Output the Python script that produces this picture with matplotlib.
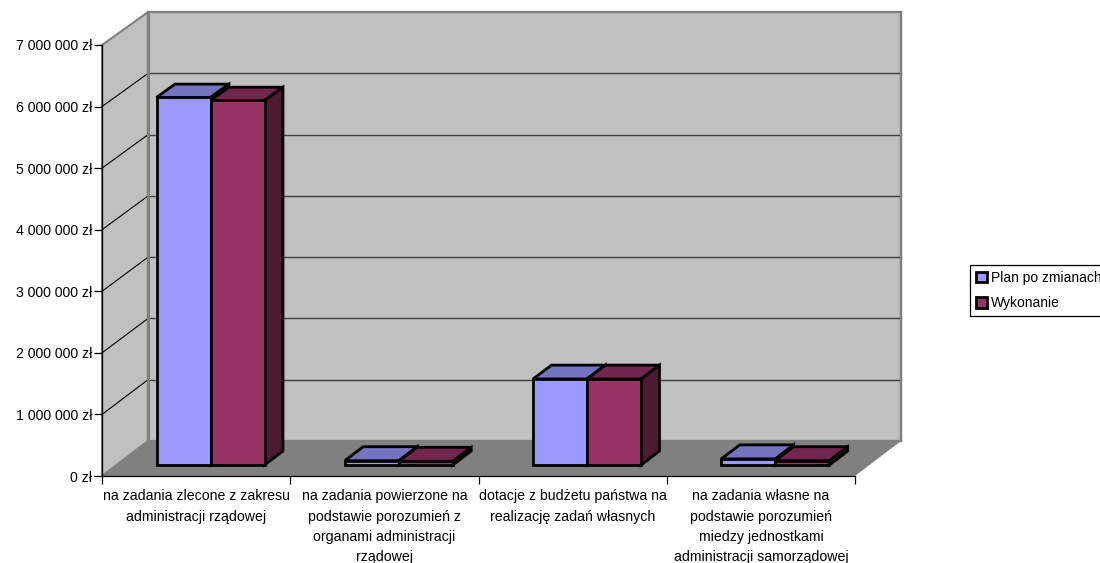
import numpy as np
import matplotlib
matplotlib.use('Agg')
import matplotlib.pyplot as plt
from matplotlib.patches import Polygon, Patch

plt.rcParams['font.family'] = ['Liberation Sans', 'DejaVu Sans']

categories = [
    'na zadania zlecone z zakresu\nadministracji rządowej',
    'na zadania powierzone na\npodstawie porozumień z\norganami administracji\nrządowej',
    'dotacje z budżetu państwa na\nrealizację zadań własnych',
    'na zadania własne na\npodstawie porozumień\nmiedzy jednostkami\nadministracji samorządowej',
]
plan = [5980000, 70000, 1400000, 100000]
wykonanie = [5930000, 60000, 1400000, 70000]
series_names = ['Plan po zmianach', 'Wykonanie']
y_ticks = [0, 1000000, 2000000, 3000000, 4000000, 5000000, 6000000, 7000000]
y_labels = ['0 zł', '1 000 000 zł', '2 000 000 zł', '3 000 000 zł',
            '4 000 000 zł', '5 000 000 zł', '6 000 000 zł', '7 000 000 zł']

W, H = 1100, 563
L, R, T, B = 102, 855, 45, 476  # front plane in pixels
fig = plt.figure(figsize=(W / 100, H / 100), dpi=100)
ax = fig.add_axes([L / W, 1 - B / H, (R - L) / W, (B - T) / H])
ax.set_xlim(0, 4)
ax.set_ylim(0, 7000000)
ax.patch.set_visible(False)

# oblique depth of the box, in data units
depth_x = 46 / ((R - L) / 4)
depth_y = 35 / ((B - T) / 7000000)


def pt(x, y, d=0.0):
    return (x + d * depth_x, y * (1 - 0.005 * d) + d * depth_y)


def poly(points, face, edge='none', lw=0.0, z=1):
    ax.add_patch(Polygon(points, closed=True, facecolor=face, edgecolor=edge, linewidth=lw,
                         joinstyle='miter', clip_on=False, zorder=z))


# walls and floor
poly([pt(0, 0), pt(0, 7000000), pt(0, 7000000, 1), pt(0, 0, 1)], '#C0C0C0', '#808080', 1.5)
poly([pt(0, 0, 1), pt(4, 0, 1), pt(4, 7000000, 1), pt(0, 7000000, 1)], '#C0C0C0', '#808080', 1.6)
poly([pt(0, 0), pt(4, 0), pt(4, 0, 1), pt(0, 0, 1)], '#808080')

for v in y_ticks[1:-1]:
    ax.plot(*zip(pt(0, v, 1), pt(4, v, 1)), color='#404040', lw=1.0, clip_on=False, zorder=1.5)
    ax.plot(*zip(pt(0, v), pt(0, v, 1)), color='black', lw=0.8, clip_on=False, zorder=1.5)
ax.plot(*zip(pt(0, 0, 1), pt(0, 7000000, 1)), color='#808080', lw=2.2, clip_on=False, zorder=1.5)
ax.plot(*zip(pt(4, 0, 1), pt(4, 7000000, 1)), color='#808080', lw=1.6, clip_on=False, zorder=1.5)

# bars
group_w = 108 / ((R - L) / 4)
bar_w = group_w / 2
d0 = 11 / 35
d1 = 25 / 35
styles = [('#9999FF', '#7373BF', '#4D4D80'), ('#993366', '#73264D', '#4D1933')]
z = 2
for i in range(len(categories)):
    left = i + 0.5 - group_w / 2
    for j, vals in enumerate([plan, wykonanie]):
        x0 = left + j * bar_w
        x1 = x0 + bar_w
        v = vals[i]
        front, top, side = styles[j]
        poly([pt(x0, v, d0), pt(x1, v, d0), pt(x1, v, d1), pt(x0, v, d1)], top, 'black', 2.0, z)
        poly([pt(x1, 0, d0), pt(x1, 0, d1), pt(x1, v, d1), pt(x1, v, d0)], side, 'black', 2.0, z)
        poly([pt(x0, 0, d0), pt(x1, 0, d0), pt(x1, v, d0), pt(x0, v, d0)], front, 'black', 2.0, z + 0.1)
        z += 1

# axes
for s in ['top', 'right']:
    ax.spines[s].set_visible(False)
for s in ['left', 'bottom']:
    ax.spines[s].set_linewidth(0.9)
    ax.spines[s].set_zorder(30)
ax.set_yticks(y_ticks)
ax.set_yticklabels(y_labels, fontsize=10.2)
ax.set_xticks(range(5))
ax.set_xticklabels([])
ax.set_xticks(np.arange(4) + 0.5, minor=True)
ax.set_xticklabels(categories, minor=True, fontsize=10.2, linespacing=1.58)
ax.tick_params(axis='y', length=6, width=0.9, pad=1)
ax.tick_params(axis='x', which='major', length=6, width=0.9)
ax.tick_params(axis='x', which='minor', length=0, pad=9.5)

# legend
handles = [Patch(facecolor=styles[k][0], edgecolor='black', linewidth=2.0) for k in range(2)]
leg = fig.legend(handles, series_names, loc='center left', bbox_to_anchor=(970 / W, 1 - 290.5 / H),
                 fontsize=10.0, fancybox=False, framealpha=1, edgecolor='black', borderaxespad=0,
                 handlelength=0.8, handleheight=0.8, handletextpad=0.25, labelspacing=0.8,
                 borderpad=0.45)
leg.get_frame().set_linewidth(0.9)

fig.savefig('out.png', dpi=100, facecolor='white')
